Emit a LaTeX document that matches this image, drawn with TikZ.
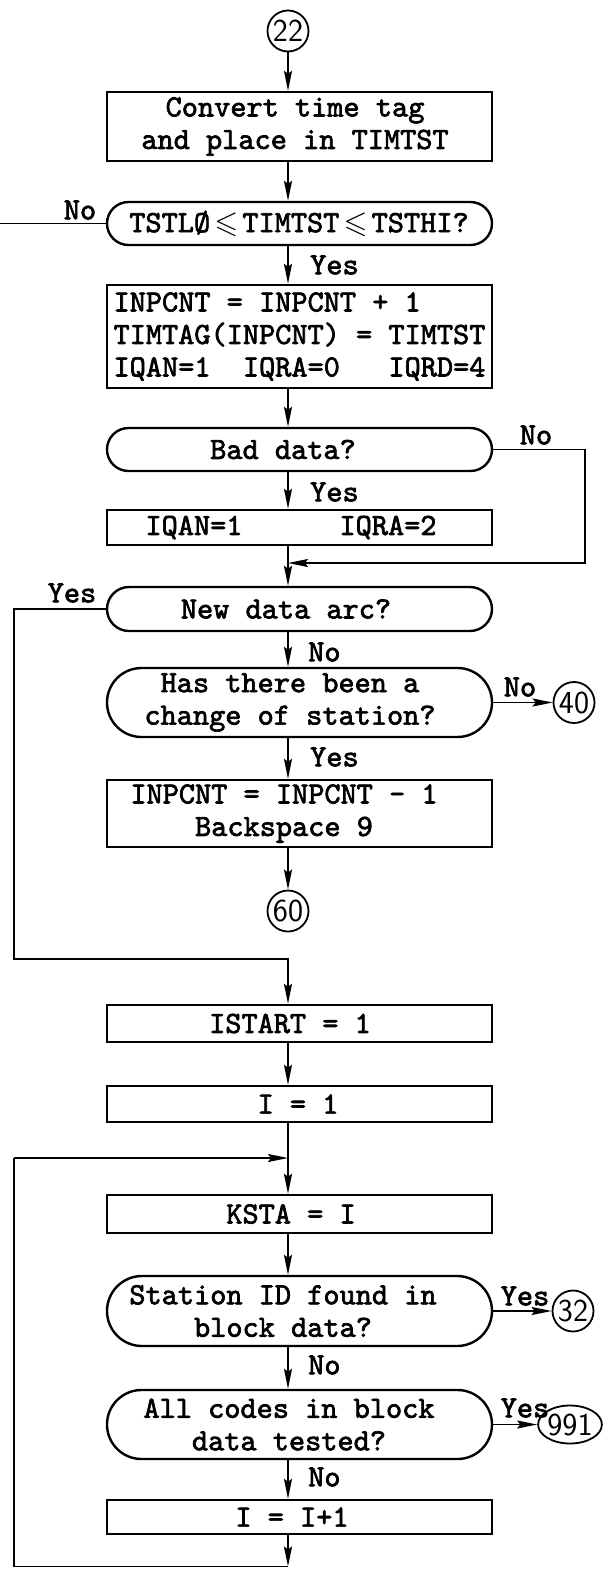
\documentclass[tikz,border=0pt]{standalone}
\usepackage{amssymb}
\usepackage{fontspec}
\newfontfamily\tyfont{lmmono10-regular.otf}[FakeBold=2.2]
\usetikzlibrary{arrows.meta,shapes.misc,shapes.geometric}
\tikzset{
  flow/.style={line width=1.8pt},
  arr/.style={flow,-{Stealth[length=20pt,width=8pt,inset=3pt]}},
  outline/.style={draw,line width=2.4pt,minimum width=385pt,inner sep=0pt},
  stepbox/.style={outline,rectangle},
  decision/.style={outline,rounded rectangle},
  conn/.style={draw,line width=1.8pt,circle,minimum size=41pt,inner sep=0pt,
    font=\fontsize{32}{32}\selectfont\sffamily},
  txt/.style={font=\fontsize{30.8}{32.5}\selectfont\tyfont,align=center,inner sep=0pt},
  ans/.style={txt},
}
\begin{document}
\begin{tikzpicture}[x=1pt,y=-1pt]
\useasboundingbox (0,0) rectangle (607,1569);
\fill[white] (0,0) rectangle (607,1569);

% --- steps and tests ---
\node[conn] (c22) at (288,31) {22};

\node[stepbox,minimum height=69pt] (b1) at (299.5,126.5) {};
\node[txt] (b1t) at (295,126.5) {Convert time tag\\and place in TIMTST};

\node[decision,minimum height=43pt] (d1) at (299.5,223.5) {};
\node[txt] (d1t) at (299,223.5) {TSTLØ$\,\leqslant\,$TIMTST$\,\leqslant\,$TSTHI?};

\node[stepbox,minimum height=103pt] (b2) at (299.5,336.5) {};
\node[txt,align=left] (b2t) at (299.5,336.5)
  {INPCNT = INPCNT + 1\\TIMTAG(INPCNT) = TIMTST\\IQAN=1\ \ IQRA=0\ \ \ IQRD=4};

\node[decision,minimum height=43pt] (d2) at (299.5,449.5) {};
\node[txt] (d2t) at (283,449.5) {Bad data?};

\node[stepbox,minimum height=35pt] (b3) at (299.5,527.5) {};
\node[txt] (b3t) at (291,527.5) {IQAN=1\ \ \ \ \ \ IQRA=2};

\node[decision,minimum height=44pt] (d3) at (299.5,609) {};
\node[txt] (d3t) at (286,609) {New data arc?};

\node[decision,minimum height=69pt] (d4) at (299.5,702.5) {};
\node[txt] (d4t) at (290,702.5) {Has there been a\\change of station?};

\node[stepbox,minimum height=67pt] (b4) at (299.5,813.5) {};
\node[txt] (b4t) at (284,813.5) {INPCNT = INPCNT - 1\\Backspace 9};

\node[conn] (c60) at (288,911) {60};
\node[conn] (c40) at (574,702.5) {40};

\node[stepbox,minimum height=37pt] (b5) at (299.5,1023.5) {};
\node[txt] (b5t) at (290,1023.5) {ISTART = 1};

\node[stepbox,minimum height=36pt] (b6) at (299.5,1104) {};
\node[txt] (b6t) at (298,1104) {I = 1};

\node[stepbox,minimum height=38pt] (b7) at (299.5,1214) {};
\node[txt] (b7t) at (291,1214) {KSTA = I};

\node[decision,minimum height=70pt] (d5) at (299.5,1311) {};
\node[txt] (d5t) at (283,1311) {Station ID found in\\block data?};
\node[conn] (c32) at (573,1311) {32};

\node[decision,minimum height=69pt] (d6) at (299.5,1424.5) {};
\node[txt] (d6t) at (289,1424.5) {All codes in block\\data tested?};
\node[conn,ellipse,minimum width=54pt,minimum height=38pt] (c991) at (570,1424.5) {991};

\node[stepbox,minimum height=34pt] (b8) at (299.5,1517) {};
\node[txt] (b8t) at (292,1517) {I = I+1};

% --- free ends and corners of the connectors ---
\coordinate (noL) at (0,223.5);
\coordinate (nb1) at (585,449.5);
\coordinate (nb2) at (585,563);
\coordinate (al1) at (14,609);
\coordinate (al2) at (14,959);
\coordinate (lp2) at (14,1158);
\coordinate (lpb) at (288,1566.5);
\coordinate (lp1) at (14,1566.5);

% --- connectors ---
\draw[arr] (c22) -- (b1.north -| c22);
\draw[arr] (b1.south -| c22) -- (d1.north -| c22);
\draw[flow] (d1.west) -- (noL);
\draw[arr] (d1.south -| c22) -- (b2.north -| c22);
\draw[arr] (b2.south -| c22) -- (d2.north -| c22);
\draw[arr] (d2.south -| c22) -- (b3.north -| c22);
\draw[arr] (d2.east) -- (nb1) -- (nb2) -- (nb2 -| c22);
\draw[arr] (b3.south -| c22) -- (d3.north -| c22);
\draw[arr] (d3.west) -- (al1) -- (al2) -- (al2 -| c22) -- (b5.north -| c22);
\draw[arr] (d3.south -| c22) -- (d4.north -| c22);
\draw[arr] (d4.east) -- (c40);
\draw[arr] (d4.south -| c22) -- (b4.north -| c22);
\draw[arr] (b4.south -| c22) -- (c60);
\draw[arr] (b5.south -| c22) -- (b6.north -| c22);
\draw[arr] (b6.south -| c22) -- (b7.north -| c22);
\draw[arr] (b7.south -| c22) -- (d5.north -| c22);
\draw[arr] (d5.east) -- (c32);
\draw[arr] (d5.south -| c22) -- (d6.north -| c22);
\draw[arr] (d6.east) -- (c991);
\draw[arr] (d6.south -| c22) -- (b8.north -| c22);
\draw[arr] (b8.south -| c22) -- (lpb);
\draw[flow] (lpb) -- (lp1) -- (lp2);
\draw[arr] (lp2) -- (lp2 -| c22);

% --- branch answers ---
\node[ans] (a1) at (80,210) {No};
\node[ans,anchor=west] (a2) at (310,265) {Yes};
\node[ans] (a3) at (536,435) {No};
\node[ans,anchor=west] (a4) at (310,492) {Yes};
\node[ans] (a5) at (72,593) {Yes};
\node[ans,anchor=west] (a6) at (308,652) {No};
\node[ans] (a7) at (520,687) {No};
\node[ans,anchor=west] (a8) at (310,757) {Yes};
\node[ans] (a9) at (525,1296) {Yes};
\node[ans,anchor=west] (a10) at (308,1365) {No};
\node[ans] (a11) at (525,1408) {Yes};
\node[ans,anchor=west] (a12) at (308,1477) {No};
\end{tikzpicture}
\end{document}
